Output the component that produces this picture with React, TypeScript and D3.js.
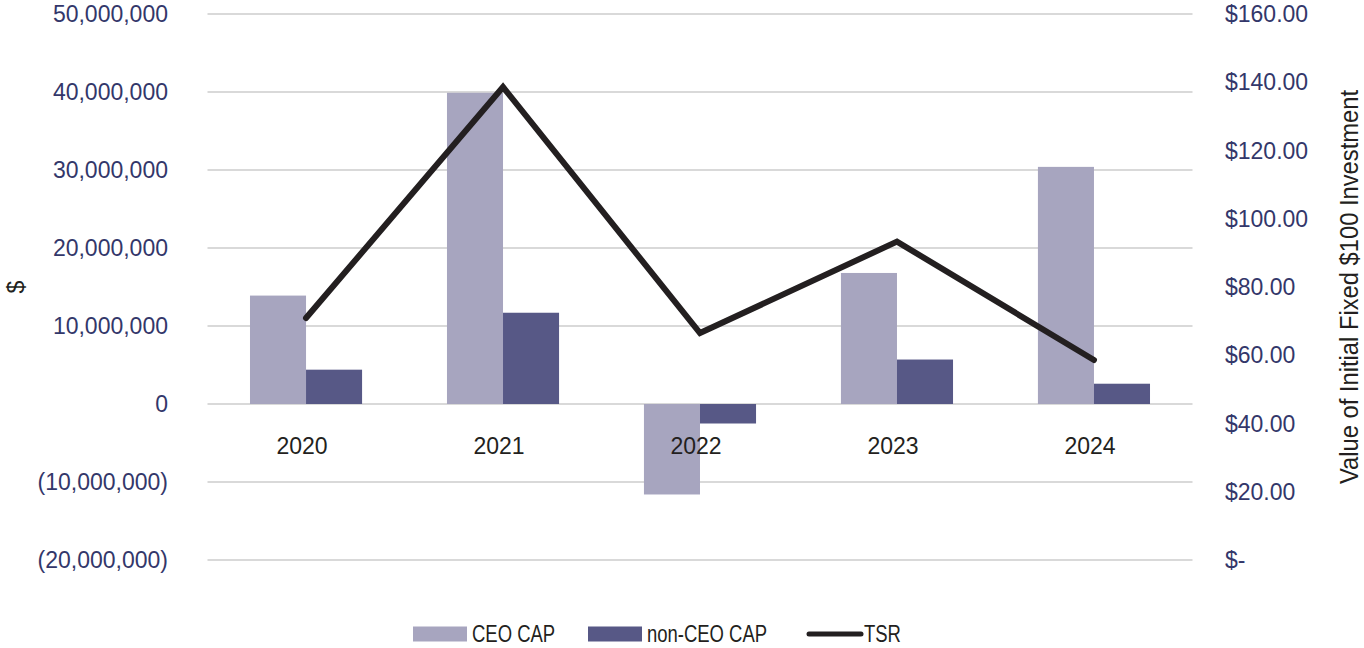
import { useEffect, useRef } from 'react';
import * as d3 from 'd3';

const years = ['2020', '2021', '2022', '2023', '2024'];
const ceoCap = [13900000, 39900000, -11600000, 16800000, 30400000];
const nonCeoCap = [4400000, 11700000, -2500000, 5700000, 2600000];
const tsr = [70.9, 138.6, 66.5, 93.3, 58.6];
const leftTicks = [-20000000, -10000000, 0, 10000000, 20000000, 30000000, 40000000, 50000000];
const rightTicks = [0, 20, 40, 60, 80, 100, 120, 140, 160];
const seriesNames = ['CEO CAP', 'non-CEO CAP'];

const W = 1364;
const H = 648;
const colors = ['#a7a5bf', '#575886'];
const navy = '#33376a';
const ink = '#231f20';
const font = "'Liberation Sans', Arial, sans-serif";

export default function App() {
  const svgRef = useRef<SVGSVGElement>(null);

  useEffect(() => {
    if (!svgRef.current) return;
    const svg = d3.select(svgRef.current);
    svg.selectAll('*').remove();

    const left = 207.5;
    const right = 1192.5;
    const top = 14;
    const bottom = 560;

    const x0 = d3.scaleBand<string>()
      .domain(years)
      .range([left, right])
      .paddingInner(0.431)
      .paddingOuter(0.2157);
    const x1 = d3.scaleBand<string>()
      .domain(seriesNames)
      .range([0, x0.bandwidth()]);
    const yL = d3.scaleLinear().domain([-20000000, 50000000]).range([bottom, top]);
    const yR = d3.scaleLinear().domain([0, 160]).range([bottom, top]);

    // gridlines
    svg.append('g')
      .selectAll('line')
      .data(leftTicks)
      .enter().append('line')
      .attr('x1', left)
      .attr('x2', right)
      .attr('y1', d => yL(d))
      .attr('y2', d => yL(d))
      .attr('stroke', '#d9d9d9')
      .attr('stroke-width', 2);

    // left axis labels
    const fmtL = (d: number) => {
      const s = d3.format(',')(Math.abs(d));
      return d < 0 ? `(${s})` : s;
    };
    svg.append('g')
      .selectAll('text')
      .data(leftTicks)
      .enter().append('text')
      .attr('x', 168)
      .attr('y', d => yL(d))
      .attr('dy', '0.35em')
      .attr('text-anchor', 'end')
      .attr('fill', navy)
      .style('font-family', font)
      .style('font-size', '23px')
      .text(d => fmtL(d));

    // right axis labels
    svg.append('g')
      .selectAll('text')
      .data(rightTicks)
      .enter().append('text')
      .attr('x', 1225)
      .attr('y', d => yR(d))
      .attr('dy', '0.35em')
      .attr('fill', navy)
      .style('font-family', font)
      .style('font-size', '23px')
      .text(d => (d === 0 ? '$-' : `$${d3.format('.2f')(d)}`));

    // axis titles
    svg.append('text')
      .attr('transform', `translate(24,${(top + bottom) / 2}) rotate(-90)`)
      .attr('text-anchor', 'middle')
      .attr('fill', ink)
      .style('font-family', font)
      .style('font-size', '23px')
      .text('$');

    svg.append('text')
      .attr('transform', `translate(1358,${(top + bottom) / 2}) rotate(-90) scale(0.95,1)`)
      .attr('text-anchor', 'middle')
      .attr('fill', ink)
      .style('font-family', font)
      .style('font-size', '25px')
      .text('Value of Initial Fixed $100 Investment');

    // bars
    const groups = svg.append('g')
      .selectAll('g')
      .data(years)
      .enter().append('g')
      .attr('transform', d => `translate(${x0(d)},0)`);

    groups.selectAll('rect')
      .data((_d, i) => [ceoCap[i], nonCeoCap[i]].map((v, j) => ({ name: seriesNames[j], v, j })))
      .enter().append('rect')
      .attr('x', d => x1(d.name) as number)
      .attr('width', x1.bandwidth())
      .attr('y', d => yL(Math.max(0, d.v)))
      .attr('height', d => Math.abs(yL(d.v) - yL(0)))
      .attr('fill', d => colors[d.j]);

    // category labels
    svg.append('g')
      .selectAll('text')
      .data(years)
      .enter().append('text')
      .attr('x', d => (x0(d) as number) + x0.bandwidth() / 2 - 4)
      .attr('y', yL(0) + 42)
      .attr('dy', '0.35em')
      .attr('text-anchor', 'middle')
      .attr('fill', ink)
      .style('font-family', font)
      .style('font-size', '23px')
      .text(d => d);

    // TSR line
    const line = d3.line<number>()
      .x((_d, i) => (x0(years[i]) as number) + x0.bandwidth() / 2)
      .y(d => yR(d));
    svg.append('path')
      .datum(tsr)
      .attr('fill', 'none')
      .attr('stroke', ink)
      .attr('stroke-width', 6)
      .attr('stroke-linejoin', 'miter')
      .attr('stroke-linecap', 'round')
      .attr('d', line);

    // legend
    const ly = 634;
    const lg = svg.append('g');
    const legendText = (x: number, label: string) => {
      lg.append('text')
        .attr('transform', `translate(${x},${ly}) scale(0.77,1)`)
        .attr('dy', '0.35em')
        .attr('fill', ink)
        .style('font-family', font)
        .style('font-size', '24px')
        .text(label);
    };
    [413, 588].forEach((lx, i) => {
      lg.append('rect')
        .attr('x', lx)
        .attr('y', ly - 7.5)
        .attr('width', 54)
        .attr('height', 15)
        .attr('fill', colors[i]);
      legendText(lx + 59, seriesNames[i]);
    });
    lg.append('line')
      .attr('x1', 809)
      .attr('x2', 861)
      .attr('y1', ly)
      .attr('y2', ly)
      .attr('stroke', ink)
      .attr('stroke-width', 5)
      .attr('stroke-linecap', 'round');
    legendText(864, 'TSR');
  }, []);

  return (
    <svg
      ref={svgRef}
      width={W}
      height={H}
      style={{ position: 'absolute', left: 0, top: 0, background: '#fff' }}
    />
  );
}
